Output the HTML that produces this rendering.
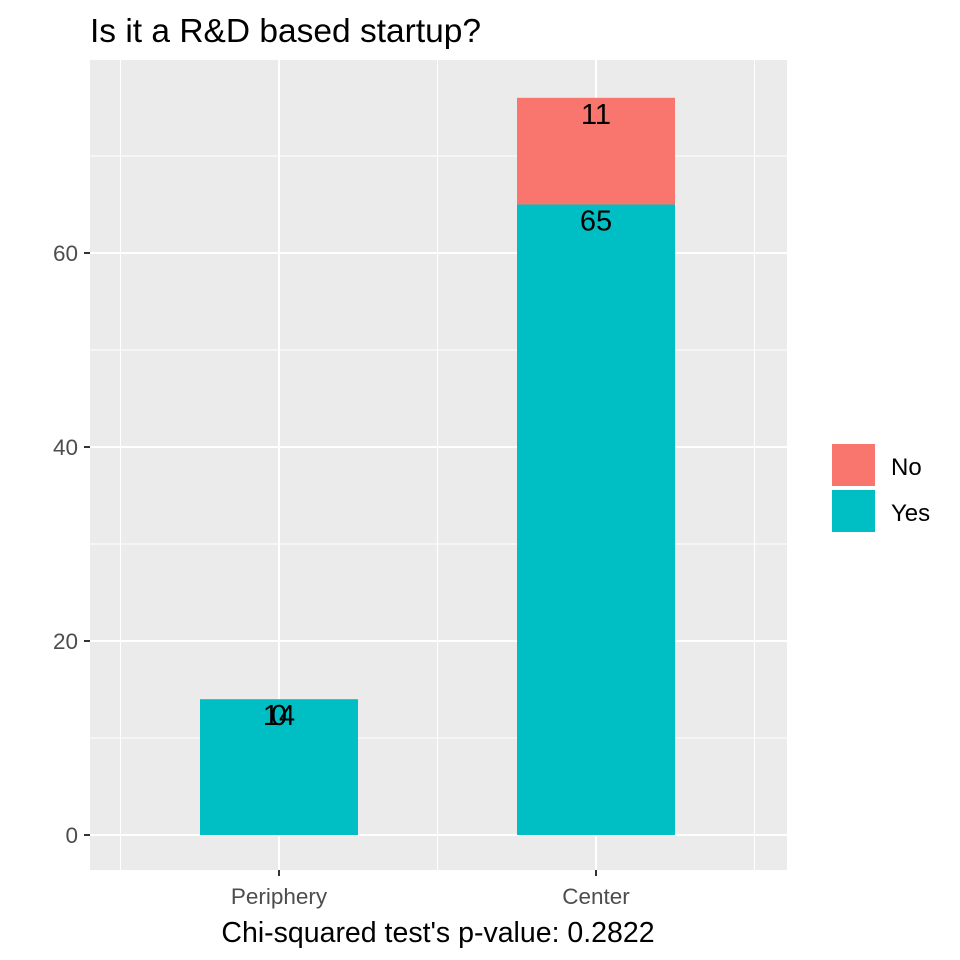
<!DOCTYPE html>
<html><head><meta charset="utf-8"><style>
body{margin:0;background:#fff;}
svg{display:block;font-family:"Liberation Sans",Arial,sans-serif;}
</style></head><body>
<svg id="chart" width="960" height="960" viewBox="0 0 960 960">
<text x="90" y="42" font-size="33.5" fill="#000">Is it a R&amp;D based startup?</text>
<rect x="90" y="60" width="697" height="810" fill="#ebebeb"/>
<g id="grid"></g>
<g id="bars"></g>
<g id="labels"></g>
<g id="axes"></g>
<text x="438" y="942" font-size="28.5" text-anchor="middle" fill="#000">Chi-squared test's p-value: 0.2822</text>
<g>
<rect x="832" y="444" width="43" height="42" fill="#F8766D"/>
<text x="891" y="475" font-size="24" fill="#000">No</text>
<rect x="832" y="490" width="43" height="42" fill="#00BFC4"/>
<text x="891" y="521" font-size="24" fill="#000">Yes</text>
</g>
</svg>
<script>
const categories=["Periphery","Center"];
const yesValues=[14,65];
const noValues=[0,11];
const yTicks=[0,20,40,60];
const yMinor=[10,30,50,70];
const NS="http://www.w3.org/2000/svg";
function y(v){return 835-v*9.7;}
function x(i){return 279+i*317;}
const bw=158;
function mk(tag,attrs,parent){const e=document.createElementNS(NS,tag);for(const k in attrs)e.setAttribute(k,attrs[k]);document.getElementById(parent).appendChild(e);return e;}
yMinor.forEach(v=>{const l=mk('line',{x1:90,x2:787,y1:y(v),y2:y(v),stroke:'#fff','stroke-width':1},'grid');

});
[-0.5,0.5,1.5].forEach(i=>{const l=mk('line',{y1:60,y2:870,x1:x(i),x2:x(i),stroke:'#fff','stroke-width':1},'grid');

});
yTicks.forEach(v=>{const l=mk('line',{x1:90,x2:787,y1:y(v),y2:y(v),stroke:'#fff','stroke-width':2},'grid');


const t=mk('line',{x1:84,x2:90,y1:y(v),y2:y(v),stroke:'#333','stroke-width':2},'axes');


const tx=mk('text',{x:78,y:y(v)+8,'font-size':22.5,'text-anchor':'end',fill:'#4d4d4d'},'axes');tx.textContent=v;

});
categories.forEach((c,i)=>{
const l=mk('line',{y1:60,y2:870,x1:x(i),x2:x(i),stroke:'#fff','stroke-width':2},'grid');


const yes=yesValues[i],no=noValues[i];
const b1=mk('rect',{x:x(i)-bw/2,y:y(yes),width:bw,height:y(0)-y(yes),fill:'#00BFC4'},'bars');


const b2=mk('rect',{x:x(i)-bw/2,y:y(yes+no),width:bw,height:y(yes)-y(yes+no),fill:'#F8766D'},'bars');


const t1=mk('text',{x:x(i),y:y(yes)+26,'font-size':29,'text-anchor':'middle',fill:'#000'},'labels');t1.textContent=yes;


const t2=mk('text',{x:x(i),y:y(yes+no)+26,'font-size':29,'text-anchor':'middle',fill:'#000'},'labels');t2.textContent=no;


const tk=mk('line',{x1:x(i),x2:x(i),y1:870,y2:876,stroke:'#333','stroke-width':2},'axes');


const tl=mk('text',{x:x(i),y:904,'font-size':22.5,'text-anchor':'middle',fill:'#4d4d4d'},'axes');tl.textContent=c;


});
</script>
</body></html>
